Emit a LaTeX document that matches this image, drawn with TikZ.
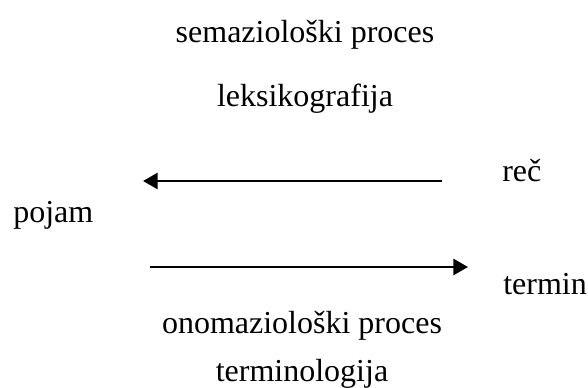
\documentclass[tikz,border=0pt]{standalone}
\usepackage{fontspec}
\setmainfont{Liberation Serif}
\usepackage{tikz}
\usetikzlibrary{arrows.meta,positioning}

\begin{document}
\begin{tikzpicture}[x=0.75pt,y=-0.75pt,>={Triangle[length=11pt,width=12pt]},
	proc/.style={line width=2.1pt,->},
	word/.style={inner sep=0pt,anchor=base,font=\fontsize{24}{28}\selectfont},
	side/.style={word,anchor=base west}]
			\useasboundingbox (0,0) rectangle (588,387);
			\node[word] (sem) at (305,42) {semaziološki proces};
			\node[word] (leks) at (305,106) {leksikografija};
			\node[side] (rec) at (502,181) {reč};
			\node[side] (pojam) at (13,222) {pojam};
			\node[side] (termin) at (503,294) {termin};
			\node[word] (onom) at (302,333) {onomaziološki proces};
			\node[word] (term) at (302,381) {terminologija};
	
			\coordinate (s0) at (442,181);
			\coordinate (s1) at (143,181);
			\coordinate (o0) at (150,267);
			\coordinate (o1) at (468,267);
	
			\draw[proc] (s0) -- (s1);
			\draw[proc] (o0) -- (o1);
			\end{tikzpicture}
\end{document}
